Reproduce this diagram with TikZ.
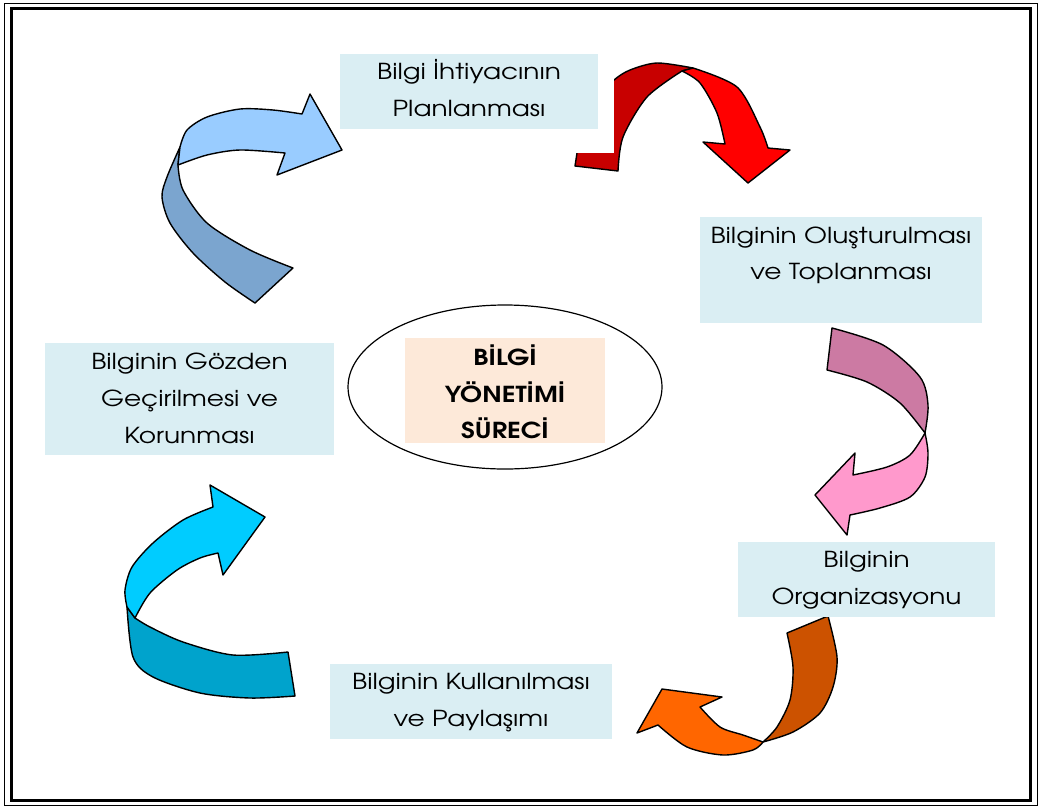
\documentclass[tikz,border=0pt]{standalone}
\usepackage{fontspec}
\setmainfont{TeX Gyre Adventor}[FakeStretch=1.2]
\usetikzlibrary{shapes.geometric}
\definecolor{boxblue}{HTML}{DAEEF3}
\definecolor{peach}{HTML}{FDE9D9}
\definecolor{redL}{HTML}{FF0000}
\definecolor{redD}{HTML}{C80000}
\definecolor{pinkL}{HTML}{FF99CC}
\definecolor{pinkD}{HTML}{CC7AA3}
\definecolor{orL}{HTML}{FF6600}
\definecolor{orD}{HTML}{CC5200}
\definecolor{cyL}{HTML}{00CCFF}
\definecolor{cyD}{HTML}{00A3CC}
\definecolor{blL}{HTML}{99CCFF}
\definecolor{blD}{HTML}{7BA5CF}
\begin{document}
\begin{tikzpicture}[x=1pt,y=-1pt,
  arrowpart/.style={draw=black,line width=1.4pt,line join=round},
  stepbox/.style={fill=boxblue,draw=none,inner sep=0pt},
  lbl/.style={anchor=base,inner sep=0pt,font=\fontsize{22}{26}\selectfont},
  blbl/.style={anchor=base,inner sep=0pt,font=\fontsize{22}{26}\selectfont\bfseries}]
\useasboundingbox (0,0) rectangle (1041,807);
\fill[white] (0,0) rectangle (1041,807);
% frame
\draw[line width=1pt] (4,3) rectangle (1037,805);
\draw[line width=3pt] (11,8) rectangle (1030,800);

% red arrow
\filldraw[arrowpart,fill=redD] (575,166) -- (618,171)
  -- plot[smooth] coordinates {(618,171) (623,137) (647,97) (682,71)}
  -- (693,68)
  -- plot[smooth] coordinates {(693,68) (657,63) (630,70) (614,80) (597,98) (583,125) (577,153)}
  -- cycle;
\filldraw[arrowpart,fill=redL] (682,71) -- (693,68)
  -- plot[smooth] coordinates {(693,68) (737,87) (760,127) (768,148)}
  -- (790,150) -- (748,183) -- (703,142) -- (725,144)
  -- plot[smooth] coordinates {(725,144) (717,113) (700,83) (682,71)}
  -- cycle;
\fill[white] (560,40) rectangle (614,153);

% pink arrow
\filldraw[arrowpart,fill=pinkD] (832,328) -- (827,370)
  -- plot[smooth] coordinates {(827,370) (867,382) (900,403) (925,433)}
  -- plot[smooth] coordinates {(925,433) (928,405) (920,377) (883,345) (832,328)}
  -- cycle;
\filldraw[arrowpart,fill=pinkL] (925,433)
  -- plot[smooth] coordinates {(925,433) (928,453) (925,477) (910,497) (880,508) (850,515)}
  -- (847,535) -- (815,495) -- (855,453) -- (853,475)
  -- plot[smooth] coordinates {(853,475) (887,467) (910,455) (925,433)}
  -- cycle;

% orange arrow
\filldraw[arrowpart,fill=orD] (828,616) -- (787,633)
  -- plot[smooth] coordinates {(787,633) (793,667) (790,700) (777,727) (763,742)}
  -- plot[smooth] coordinates {(763,742) (793,732) (820,713) (833,687) (837,657) (828,616)}
  -- cycle;
\filldraw[arrowpart,fill=orL] (763,742)
  -- plot[smooth] coordinates {(763,742) (743,735) (720,727) (700,707)}
  -- (722,697) -- (662,689) -- (637,733) -- (658,725)
  -- plot[smooth] coordinates {(658,725) (687,747) (723,755) (753,750) (763,742)}
  -- cycle;

% cyan arrow
\filldraw[arrowpart,fill=cyD] (127,607)
  -- plot[smooth] coordinates {(127,607) (133,657) (153,677) (200,693) (250,698) (295,696)}
  -- (288,652)
  -- plot[smooth] coordinates {(288,652) (233,655) (183,642) (150,627) (135,618)}
  -- cycle;
\filldraw[arrowpart,fill=cyL] (265,517) -- (210,485) -- (213,507)
  -- plot[smooth] coordinates {(213,507) (183,520) (153,543) (132,567) (125,590) (127,607)}
  -- (135,618)
  -- plot[smooth] coordinates {(135,618) (150,593) (177,570) (200,558) (218,553)}
  -- (223,575) -- cycle;

% blue arrow
\filldraw[arrowpart,fill=blD] (180,147)
  -- plot[smooth] coordinates {(180,147) (167,177) (162,197) (170,223) (193,253) (225,282) (255,303)}
  -- (293,268)
  -- plot[smooth] coordinates {(293,268) (250,250) (207,223) (183,190) (178,165)}
  -- cycle;
\filldraw[arrowpart,fill=blL] (342,150) -- (310,94) -- (302,114)
  -- plot[smooth] coordinates {(302,114) (273,110) (240,109) (207,117) (187,130) (180,147)}
  -- (178,165)
  -- plot[smooth] coordinates {(178,165) (207,155) (240,150) (285,153)}
  -- (277,175) -- cycle;

% boxes
\node[stepbox,minimum width=258pt,minimum height=75pt] (box1) at (469,91.5) {};
\node[stepbox,minimum width=282pt,minimum height=106pt] (box2) at (841,270) {};
\node[stepbox,minimum width=257pt,minimum height=75pt] (box3) at (866.5,579.5) {};
\node[stepbox,minimum width=282pt,minimum height=75pt] (box4) at (471,701.5) {};
\node[stepbox,minimum width=289pt,minimum height=112pt] (box5) at (189.5,399) {};

% center
\node[draw=black,line width=1.2pt,ellipse,minimum width=314pt,minimum height=164pt,inner sep=0pt] (ell) at (505,387) {};
\node[fill=peach,inner sep=0pt,minimum width=200pt,minimum height=105pt] (core) at (505,390.5) {};

% labels
\node[lbl] (t1a) at (469,79.3) {Bilgi İhtiyacının};
\node[lbl] (t1b) at (469,116) {Planlanması};
\node[lbl] (t2a) at (841,243) {Bilginin Oluşturulması};
\node[lbl] (t2b) at (841,279.5) {ve Toplanması};
\node[lbl] (t3a) at (866.5,567.3) {Bilginin};
\node[lbl] (t3b) at (866.5,604) {Organizasyonu};
\node[lbl] (t4a) at (471,689) {Bilginin Kullanılması};
\node[lbl] (t4b) at (471,726) {ve Paylaşımı};
\node[lbl] (t5a) at (189.5,369) {Bilginin Gözden};
\node[lbl] (t5b) at (189.5,406) {Geçirilmesi ve};
\node[lbl] (t5c) at (189.5,443) {Korunması};
\node[blbl] (c1) at (505,365) {BİLGİ};
\node[blbl] (c2) at (505,402) {YÖNETİMİ};
\node[blbl] (c3) at (505,438) {SÜRECİ};
\end{tikzpicture}
\end{document}
